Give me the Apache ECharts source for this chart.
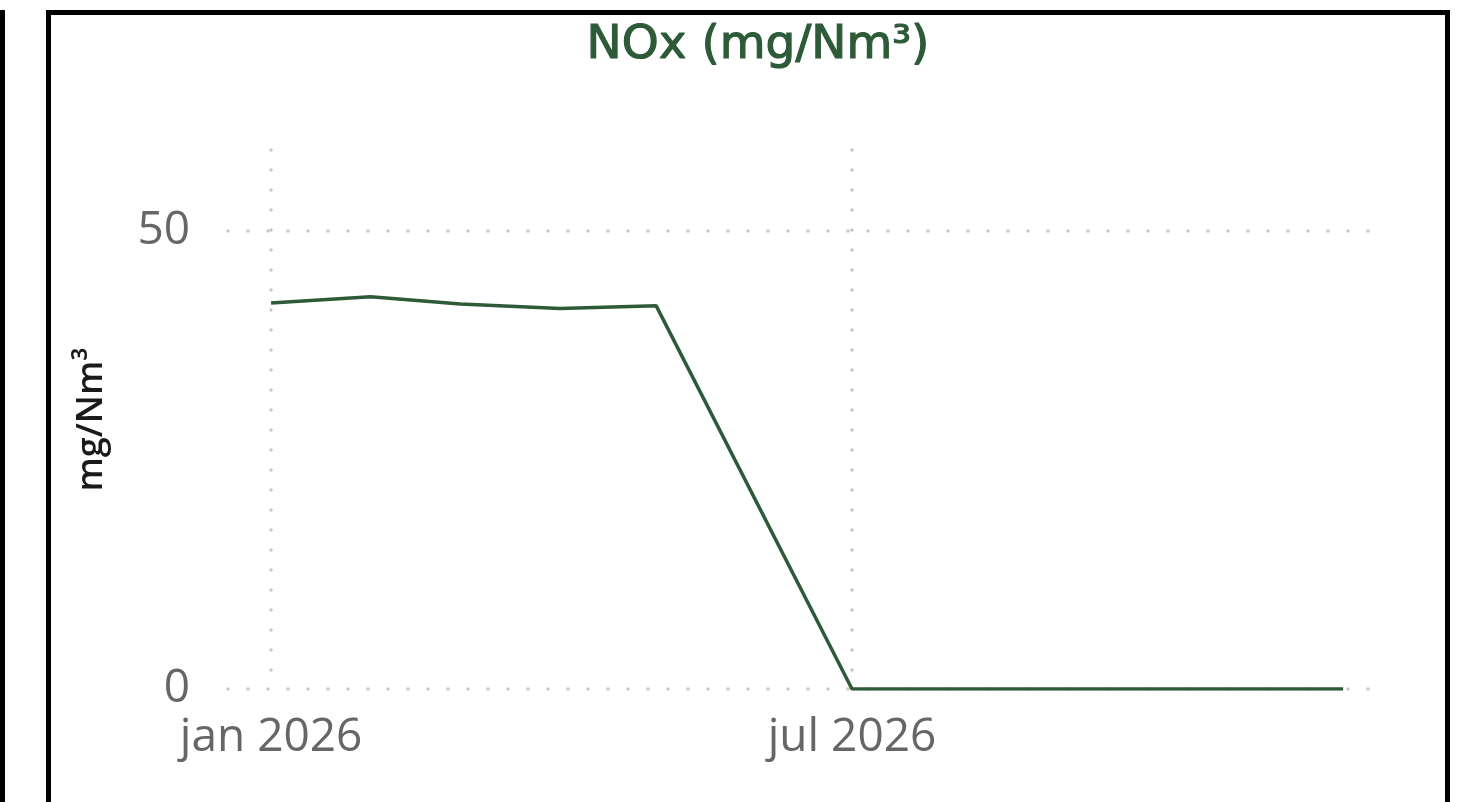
<!DOCTYPE html>
<html>
<head>
<meta charset="utf-8">
<script src="https://cdn.jsdelivr.net/npm/echarts@6/dist/echarts.min.js"></script>
<style>
  html, body { margin: 0; padding: 0; background: #fff; }
  #chart { width: 1460px; height: 802px; }
</style>
</head>
<body>
<div id="chart"></div>
<script>
// maandelijkse NOx waarden 2026 (juni ontbreekt)
const months = ['2026-01-01', '2026-02-01', '2026-03-01', '2026-04-01', '2026-05-01', '2026-06-01',
  '2026-07-01', '2026-08-01', '2026-09-01', '2026-10-01', '2026-11-01', '2026-12-01'];
const noxValues = [42.1, 42.8, 42.0, 41.5, 41.8, null, 0, 0, 0, 0, 0, 0];
const xTickDates = ['2026-01-01', '2026-07-01'];
const monthNames = ['jan', 'feb', 'mrt', 'apr', 'mei', 'jun', 'jul', 'aug', 'sep', 'okt', 'nov', 'dec'];

function toTime(d) {
  return new Date(d + 'T00:00:00Z').getTime();
}

const xMin = new Date('2025-12-18T14:00:00Z').getTime();
const xMax = new Date('2026-12-10T00:00:00Z').getTime();

const green = '#2d5a37';
const labelGray = '#666666';
const dotted = {
  color: '#c8c8c8',
  width: 3.5,
  type: [0, 20],
  cap: 'round'
};

const chart = echarts.init(document.getElementById('chart'), null, { renderer: 'canvas' });

function getOption() {
  const tickValues = xTickDates.map(toTime);
  return {
    animation: false,
    title: {
      text: 'NOx (mg/Nm³)',
      // midden van de tegel, niet van het canvas
      left: 753,
      textAlign: 'center',
      top: 17,
      textStyle: {
        fontFamily: 'DejaVu Sans',
        fontWeight: 'normal',
        fontSize: 47,
        color: green,
        // iets dikker, zoals het medium lettertype in het origineel
        textBorderColor: green,
        textBorderWidth: 1.2
      }
    },
    grid: { left: 228, right: 88, top: 150, bottom: 113 },
    xAxis: {
      // tijd als getal, zodat alleen jan en jul een label krijgen
      type: 'value',
      min: xMin,
      max: xMax,
      axisLine: { show: false },
      axisTick: { show: false, customValues: tickValues },
      axisLabel: {
        customValues: tickValues,
        color: labelGray,
        fontFamily: 'Open Sans',
        fontSize: 46,
        margin: 26,
        formatter: function (value) {
          const d = new Date(value);
          return monthNames[d.getUTCMonth()] + ' ' + d.getUTCFullYear();
        }
      },
      splitLine: { show: true, lineStyle: dotted }
    },
    yAxis: {
      type: 'value',
      min: 0,
      max: 58.8,
      interval: 50,
      name: 'mg/Nm³',
      nameLocation: 'middle',
      nameGap: 118,
      nameTextStyle: {
        fontFamily: 'Open Sans',
        fontWeight: 600,
        fontSize: 36,
        color: '#1a1a1a'
      },
      axisLine: { show: false },
      axisTick: { show: false },
      axisLabel: {
        color: labelGray,
        fontFamily: 'Open Sans',
        fontSize: 46,
        margin: 38,
        showMaxLabel: false
      },
      splitLine: { show: true, showMaxLine: false, lineStyle: dotted }
    },
    series: [
      {
        name: 'NOx',
        type: 'line',
        data: months.map((m, i) => [toTime(m), noxValues[i]]),
        connectNulls: true,
        showSymbol: false,
        symbol: 'none',
        lineStyle: { color: green, width: 3.5 },
        itemStyle: { color: green }
      }
    ],
    graphic: [
      // rand van vorige tegel links
      {
        type: 'rect',
        shape: { x: -100, y: 12.5, width: 102.5, height: 900 },
        style: { fill: 'none', stroke: '#000', lineWidth: 5 }
      },
      // rand van deze tegel
      {
        type: 'rect',
        shape: { x: 48.5, y: 12.5, width: 1399, height: 900 },
        style: { fill: 'none', stroke: '#000', lineWidth: 5 }
      }
    ]
  };
}

chart.setOption(getOption());
</script>
</body>
</html>
